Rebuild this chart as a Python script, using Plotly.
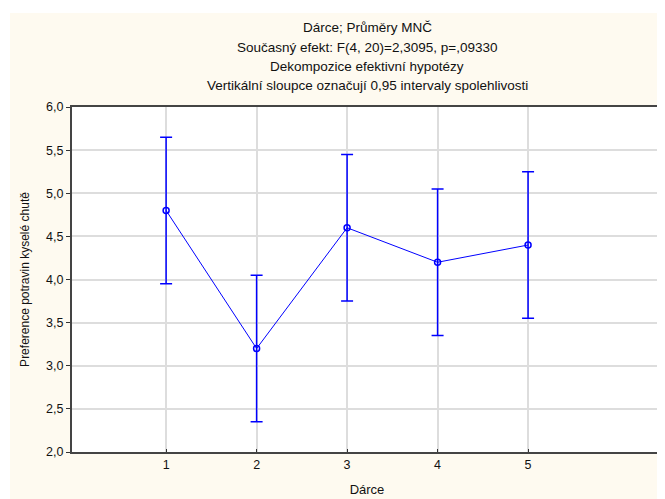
import plotly.graph_objects as go

categories = [1, 2, 3, 4, 5]
means = [4.8, 3.2, 4.6, 4.2, 4.4]
ci_upper = [5.65, 4.05, 5.45, 5.05, 5.25]
ci_lower = [3.95, 2.35, 3.75, 3.35, 3.55]
y_ticks = [2.0, 2.5, 3.0, 3.5, 4.0, 4.5, 5.0, 5.5, 6.0]
y_ticktext = ["2,0", "2,5", "3,0", "3,5", "4,0", "4,5", "5,0", "5,5", "6,0"]
title_lines = [
    "Dárce; Průměry MNČ",
    "Současný efekt: F(4, 20)=2,3095, p=,09330",
    "Dekompozice efektivní hypotézy",
    "Vertikální sloupce označují 0,95 intervaly spolehlivosti",
]

err_plus = [u - m for u, m in zip(ci_upper, means)]
err_minus = [m - l for m, l in zip(means, ci_lower)]

BLUE = "#0000FF"
CREAM = "#FEFAF0"
FONT = "Liberation Sans, Arial, sans-serif"

# page body has an 8px default margin; figure sized to fill the rest of the window
OFF = 8
W, H = 665 - OFF, 499 - OFF
L, R, T, B = 72 - OFF, 3, 107 - OFF, 47
pw, ph = W - L - R, H - T - B

fig = go.Figure()
fig.add_trace(go.Scatter(
    x=categories, y=means, mode="lines+markers",
    line=dict(color=BLUE, width=1),
    marker=dict(symbol="circle-open", size=6, color=BLUE, line=dict(width=1.5, color=BLUE)),
    error_y=dict(type="data", symmetric=False, array=err_plus, arrayminus=err_minus,
                 color=BLUE, thickness=1.5, width=6),
    showlegend=False,
))

shapes = [
    dict(type="rect", xref="paper", yref="paper", layer="below",
         x0=(10 - OFF - L) / pw, x1=(W - L) / pw, y0=-(B) / ph, y1=(H - B - (13 - OFF)) / ph,
         fillcolor=CREAM, line=dict(width=0)),
    dict(type="rect", xref="paper", yref="paper", layer="below",
         x0=0, x1=1, y0=0, y1=1, fillcolor="white", line=dict(width=0)),
]

annotations = []
ypix = [28, 48, 67, 86]
for txt, yp in zip(title_lines, ypix):
    annotations.append(dict(
        text=txt, xref="paper", yref="paper", x=0.5, y=(H - B - (yp - OFF)) / ph,
        xanchor="center", yanchor="middle", showarrow=False,
        font=dict(family=FONT, size=13.5, color="#111111"),
    ))

fig.update_layout(
    width=W, height=H,
    margin=dict(l=L, r=R, t=T, b=B, pad=0, autoexpand=False),
    paper_bgcolor="white",
    plot_bgcolor="rgba(0,0,0,0)",
    shapes=shapes,
    annotations=annotations,
    font=dict(family=FONT, size=12, color="#111111"),
    xaxis=dict(
        range=[-0.04, 6.48], tickvals=categories, ticktext=[str(c) for c in categories],
        showgrid=True, gridcolor="#DDDDDD", gridwidth=1.5, zeroline=False,
        showline=True, linecolor="#444444", linewidth=2, mirror=True,
        ticks="inside", ticklen=3, tickcolor="#333333", automargin=False,
        title=dict(text="Dárce", standoff=14, font=dict(size=13)),
        tickfont=dict(size=12.5),
    ),
    yaxis=dict(
        range=[2.0, 6.0], tickvals=y_ticks, ticktext=y_ticktext,
        showgrid=True, gridcolor="#DDDDDD", gridwidth=1.5, zeroline=False,
        showline=True, linecolor="#444444", linewidth=2, mirror=True,
        ticks="outside", ticklen=4, tickcolor="#333333", automargin=False,
        title=dict(text="Preference potravin kyselé chutě", standoff=14, font=dict(size=12)),
        tickfont=dict(size=12.5),
    ),
)

fig.write_html("out.html")
